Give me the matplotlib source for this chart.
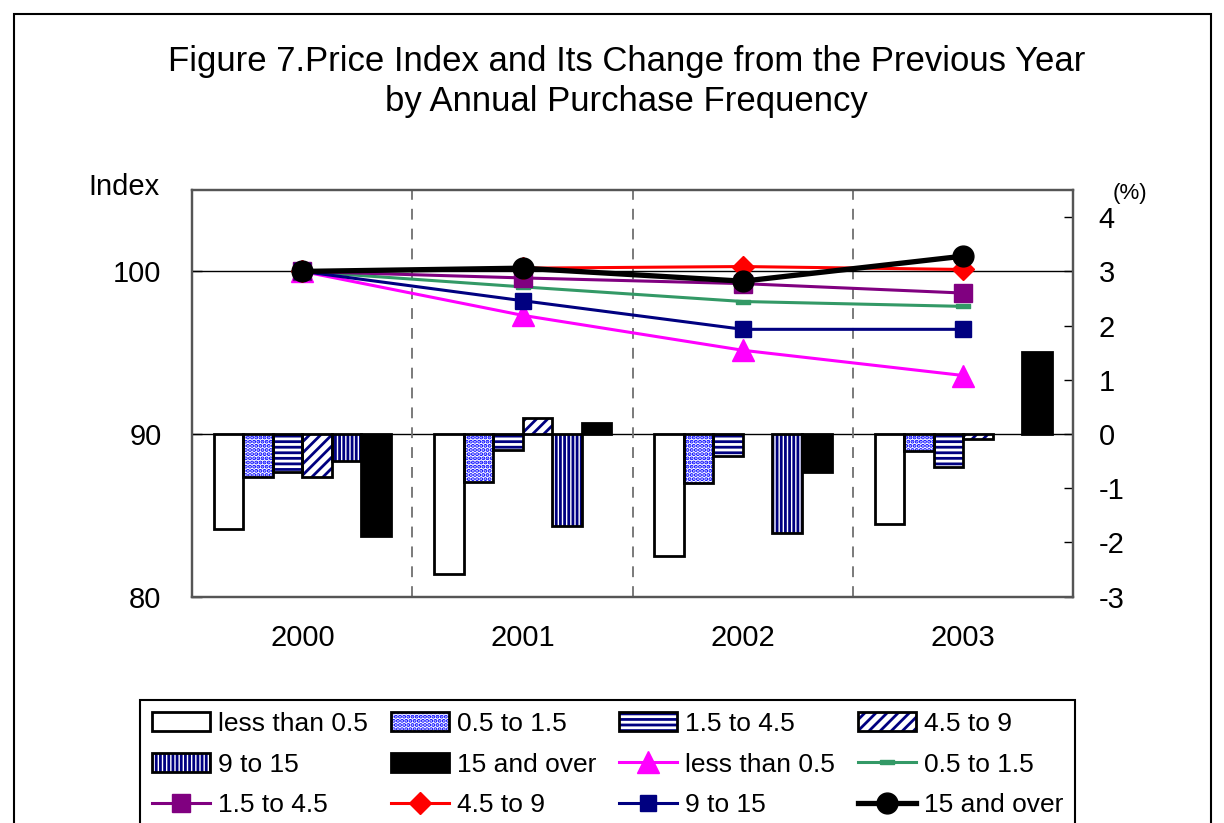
import matplotlib
matplotlib.use("Agg")
import matplotlib.pyplot as plt
import numpy as np
from matplotlib.patches import Patch, Rectangle


YEARS = ["2000", "2001", "2002", "2003"]
GROUPS = ["less than 0.5", "0.5 to 1.5", "1.5 to 4.5", "4.5 to 9", "9 to 15", "15 and over"]

# change from previous year (%), right axis; nan = no bar shown
CHANGE_LT05 = [-1.75, -2.58, -2.25, -1.66]
CHANGE_05_15 = [-0.79, -0.88, -0.90, -0.31]
CHANGE_15_45 = [-0.70, -0.29, -0.40, -0.60]
CHANGE_45_9 = [-0.79, 0.30, np.nan, -0.10]
CHANGE_9_15 = [-0.50, -1.69, -1.82, np.nan]
CHANGE_15_OVER = [-1.88, 0.21, -0.70, 1.51]

# price index (2000 = 100), left axis
INDEX_LT05 = [100.0, 97.3, 95.15, 93.6]
INDEX_05_15 = [100.0, 99.05, 98.15, 97.85]
INDEX_15_45 = [100.0, 99.6, 99.25, 98.67]
INDEX_45_9 = [100.0, 100.2, 100.3, 100.12]
INDEX_9_15 = [100.0, 98.2, 96.44, 96.44]
INDEX_15_OVER = [100.0, 100.2, 99.4, 100.94]

plt.rcParams["font.family"] = ["Liberation Sans", "DejaVu Sans"]
plt.rcParams["hatch.linewidth"] = 2.0
plt.rcParams["axes.unicode_minus"] = False

NAVY = "#000080"
BLUE = "#0000FF"


def main():
    fig = plt.figure(figsize=(12.24, 8.23), dpi=100)
    ax_pct = fig.add_axes([0.157, 0.275, 0.720, 0.494])
    ax_idx = ax_pct.twinx()
    # index axis sits on top so lines are drawn over bars, but its ticks go on the left
    ax_idx.set_zorder(ax_pct.get_zorder() + 1)
    ax_idx.patch.set_visible(False)
    ax_pct.yaxis.tick_right()
    ax_idx.yaxis.tick_left()

    centers = np.arange(len(YEARS)) + 0.5
    width = 0.134

    bar_series = [CHANGE_LT05, CHANGE_05_15, CHANGE_15_45, CHANGE_45_9, CHANGE_9_15, CHANGE_15_OVER]
    bar_styles = [
        dict(face="white", hatch=None, hcolor="black"),
        dict(face="white", hatch="....", hcolor=BLUE),
        dict(face="white", hatch="---", hcolor=NAVY),
        dict(face="white", hatch="///", hcolor=NAVY),
        dict(face="white", hatch="||||", hcolor=NAVY),
        dict(face="black", hatch=None, hcolor="black"),
    ]

    bar_handles = []
    for j, (vals, st) in enumerate(zip(bar_series, bar_styles)):
        x = centers + (j - 2.5) * width
        ax_pct.bar(x, vals, width=width, color=st["face"], edgecolor=st["hcolor"],
                   hatch=st["hatch"], linewidth=0, zorder=2)
        ax_pct.bar(x, vals, width=width, fill=False, edgecolor="black",
                   linewidth=2.0, zorder=3)
        h1 = Patch(facecolor=st["face"], edgecolor=st["hcolor"], hatch=st["hatch"], linewidth=0)
        h2 = Patch(fill=False, edgecolor="black", linewidth=2.0)
        bar_handles.append((h1, h2))

    green_marker = [(-1, -0.35), (1, -0.35), (1, 0.35), (-1, 0.35), (-1, -0.35)]
    line_series = [INDEX_LT05, INDEX_05_15, INDEX_15_45, INDEX_45_9, INDEX_9_15, INDEX_15_OVER]
    line_styles = [
        dict(color="#FF00FF", marker="^", ms=16, lw=2.2),
        dict(color="#339966", marker=green_marker, ms=10, lw=2.2),
        dict(color="#800080", marker="s", ms=13, lw=2.2),
        dict(color="#FF0000", marker="D", ms=11, lw=2.2),
        dict(color=NAVY, marker="s", ms=11, lw=2.2),
        dict(color="black", marker="o", ms=15, lw=3.8),
    ]
    line_handles = []
    for vals, st in zip(line_series, line_styles):
        ln, = ax_idx.plot(centers, vals, color=st["color"], marker=st["marker"],
                          markersize=st["ms"], linewidth=st["lw"], zorder=4)
        line_handles.append(ln)

    # reference lines and year dividers
    ax_idx.axhline(100, color="black", linewidth=1.0, zorder=1)
    ax_pct.axhline(0, color="black", linewidth=1.0, zorder=1)
    for xd in [1, 2, 3]:
        ax_pct.axvline(xd, color="#707070", linewidth=1.3, linestyle=(0, (6, 5)), zorder=1)

    ax_pct.set_xlim(0, 4)
    ax_pct.set_ylim(-3, 4.5)
    ax_pct.set_yticks(range(-3, 5))
    ax_idx.set_ylim(80, 105)
    ax_idx.set_yticks([80, 90, 100])

    ax_pct.set_xticks(centers)
    ax_pct.set_xticklabels(YEARS)
    ax_pct.tick_params(axis="x", length=0, pad=20, labelsize=21)
    ax_pct.tick_params(axis="y", direction="in", length=6.5, width=1.0, pad=18, labelsize=21)
    ax_idx.tick_params(axis="y", direction="in", length=7, width=1.0, pad=22, labelsize=21)

    for a in (ax_pct, ax_idx):
        for sp in a.spines.values():
            sp.set_color("#555555")
            sp.set_linewidth(1.6)

    fig.text(88 / 1224, 1 - 195 / 823, "Index", fontsize=21, ha="left", va="baseline")
    fig.text(1130 / 1224, 1 - 194 / 823, "(%)", fontsize=16, ha="center", va="center")

    fig.text(0.512, 1 - 62 / 823, "Figure 7.Price Index and Its Change from the Previous Year",
             fontsize=25, ha="center", va="center")
    fig.text(0.512, 1 - 102 / 823, "by Annual Purchase Frequency",
             fontsize=25, ha="center", va="center")

    handles = bar_handles + line_handles
    labels = GROUPS + GROUPS
    ncol = 4
    nrow = 3
    order = [r * ncol + c for c in range(ncol) for r in range(nrow)]
    leg = fig.legend([handles[i] for i in order], [labels[i] for i in order],
                     ncol=ncol, loc="upper left",
                     bbox_to_anchor=(140 / 1224, 0.002, 935 / 1224, 1 - 700 / 823 - 0.002),
                     mode="expand", fontsize=19, frameon=True, fancybox=False,
                     edgecolor="black", framealpha=1, handlelength=2.2,
                     handletextpad=0.3, labelspacing=0.63, borderpad=0.45,
                     borderaxespad=0, columnspacing=0.5)
    leg.get_frame().set_linewidth(1.5)

    fig.add_artist(Rectangle((14 / 1224, -0.05), (1211 - 14) / 1224, 1.05 - 14 / 823,
                             transform=fig.transFigure, fill=False,
                             edgecolor="black", linewidth=1.5))

    fig.savefig("out.png", dpi=100)
    plt.close(fig)


if __name__ == "__main__":
    main()
